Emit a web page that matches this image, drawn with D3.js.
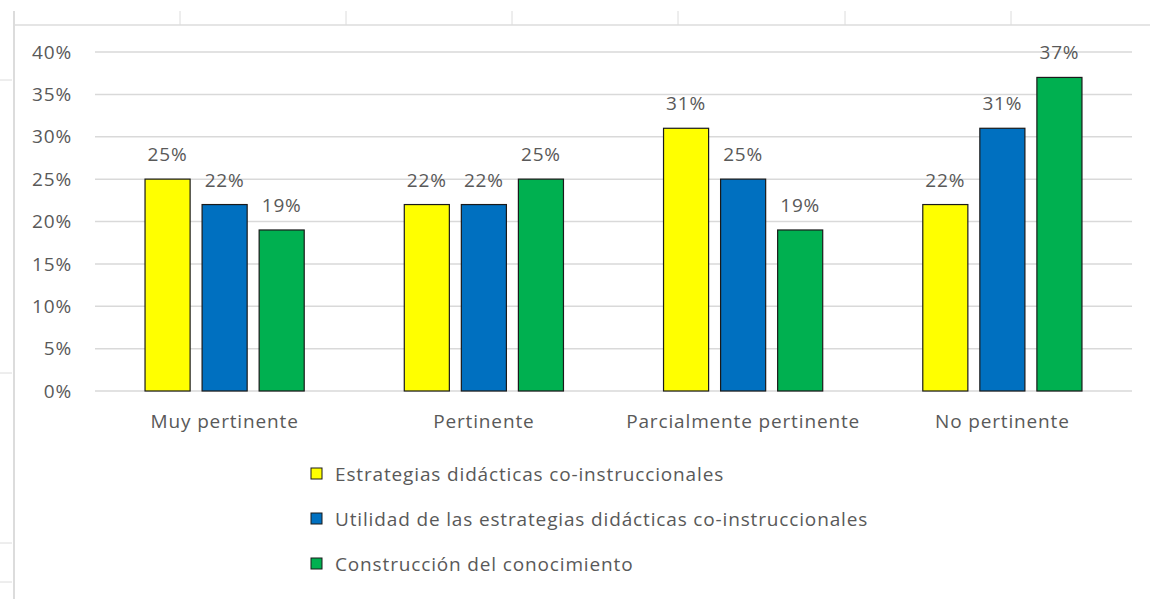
<!DOCTYPE html>
<html>
<head>
<meta charset="utf-8">
<script src="https://cdn.jsdelivr.net/npm/d3@7"></script>
<style>
  body { margin: 0; background: #fff; }
  svg text { font-family: "Open Sans", sans-serif; fill: #595959; letter-spacing: 0.85px; }
</style>
</head>
<body>
<svg id="chart" width="1150" height="599"></svg>
<script>
const categories = ["Muy pertinente", "Pertinente", "Parcialmente pertinente", "No pertinente"];
const series = [
  "Estrategias didácticas co-instruccionales",
  "Utilidad de las estrategias didácticas co-instruccionales",
  "Construcción del conocimiento"
];
const estrategias = [25, 22, 31, 22];
const utilidad = [22, 22, 25, 31];
const construccion = [19, 25, 19, 37];
const yTicks = [0, 5, 10, 15, 20, 25, 30, 35, 40];
const colors = ["#FFFF00", "#0070C0", "#00B050"];

const values = [estrategias, utilidad, construccion];
const svg = d3.select("#chart");
const width = 1150, height = 599;
const fontSize = "19px";

// spreadsheet cell lines behind the chart
const sheet = svg.append("g").attr("stroke", "#dcdcdc");
sheet.append("line").attr("x1", 13).attr("x2", width).attr("y1", 25).attr("y2", 25).attr("stroke-width", 1.5);
sheet.append("line").attr("x1", 14).attr("x2", 14).attr("y1", 11).attr("y2", height).attr("stroke-width", 2);
[180, 346, 512, 678, 845, 1011].forEach(x => {
  sheet.append("line").attr("x1", x).attr("x2", x).attr("y1", 11).attr("y2", 25);
});
[80, 373, 543, 582].forEach(y => {
  sheet.append("line").attr("x1", 0).attr("x2", 12).attr("y1", y).attr("y2", y);
});

const margins = { top: 52, right: 18, bottom: 208, left: 95 };

const y = d3.scaleLinear()
  .domain([0, 40])
  .range([height - margins.bottom, margins.top]);

const x0 = d3.scaleBand()
  .domain(categories)
  .range([margins.left, width - margins.right])
  .paddingInner(0.386)
  .paddingOuter(0.193);

const x1 = d3.scaleBand()
  .domain(d3.range(series.length))
  .range([0, x0.bandwidth()])
  .paddingInner(0.21);

// gridlines
svg.append("g")
  .selectAll("line")
  .data(yTicks)
  .join("line")
  .attr("x1", margins.left)
  .attr("x2", width - margins.right)
  .attr("y1", d => y(d))
  .attr("y2", d => y(d))
  .attr("stroke", "#d9d9d9")
  .attr("stroke-width", 1.5);

// y labels
svg.append("g")
  .selectAll("text")
  .data(yTicks)
  .join("text")
  .attr("x", 72)
  .attr("y", d => y(d))
  .attr("dy", "0.35em")
  .attr("text-anchor", "end")
  .style("font-size", fontSize)
  .text(d => d + "%");

// bars
const groups = svg.append("g")
  .selectAll("g")
  .data(categories)
  .join("g")
  .attr("transform", d => `translate(${x0(d)},0)`);

groups.selectAll("rect")
  .data((d, i) => values.map((v, s) => ({ s: s, v: v[i] })))
  .join("rect")
  .attr("x", d => x1(d.s))
  .attr("y", d => y(d.v))
  .attr("width", x1.bandwidth())
  .attr("height", d => y(0) - y(d.v))
  .attr("fill", d => colors[d.s])
  .attr("stroke", "#1a1a1a")
  .attr("stroke-width", 1.2);

groups.selectAll("text")
  .data((d, i) => values.map((v, s) => ({ s: s, v: v[i] })))
  .join("text")
  .attr("x", d => x1(d.s) + x1.bandwidth() / 2)
  .attr("y", d => y(d.v) - 18)
  .attr("text-anchor", "middle")
  .style("font-size", fontSize)
  .text(d => d.v + "%");

// category labels
svg.append("g")
  .selectAll("text")
  .data(categories)
  .join("text")
  .attr("x", d => x0(d) + x0.bandwidth() / 2)
  .attr("y", 421)
  .attr("dy", "0.35em")
  .attr("text-anchor", "middle")
  .style("font-size", fontSize)
  .text(d => d);

// legend
const legend = svg.append("g")
  .selectAll("g")
  .data(series)
  .join("g")
  .attr("transform", (d, i) => `translate(311,${474 + i * 45})`);

legend.append("rect")
  .attr("x", 0)
  .attr("y", -6)
  .attr("width", 11)
  .attr("height", 11)
  .attr("fill", (d, i) => colors[i])
  .attr("stroke", "#1a1a1a")
  .attr("stroke-width", 1);

legend.append("text")
  .attr("x", 24)
  .attr("y", 0)
  .attr("dy", "0.35em")
  .style("font-size", fontSize)
  .text(d => d);
</script>
</body>
</html>
